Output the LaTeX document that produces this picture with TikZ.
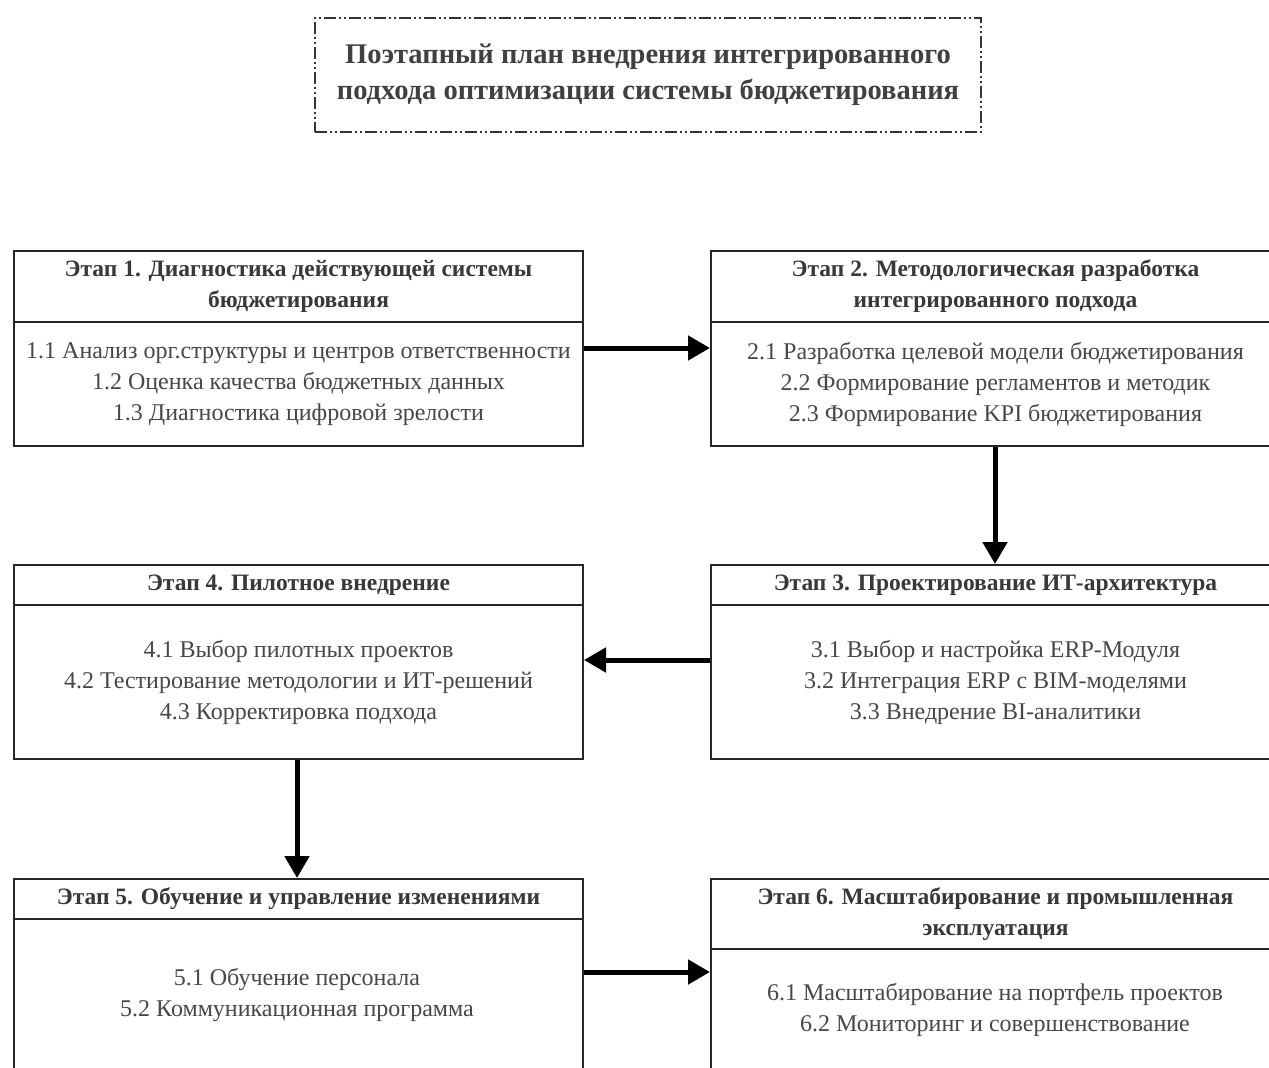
\documentclass[tikz,border=0pt]{standalone}
\usepackage{fontspec}
\setmainfont{Liberation Serif}
\usetikzlibrary{arrows.meta}
\begin{document}
\begin{tikzpicture}[x=1pt,y=-1pt,
  boxline/.style={draw=black!85, line width=2pt},
  hdr/.style={boxline, minimum width=569pt, anchor=north west, inner sep=0pt, align=center,
    font=\fontsize{23.5}{31}\selectfont\bfseries, text=black!78},
  bodyfont/.style={font=\fontsize{24}{31}\selectfont, text=black!72, align=center},
  bdy/.style={boxline, bodyfont, minimum width=569pt, anchor=north west, inner sep=0pt},
  flow/.style={line width=5pt, draw=black, -{Triangle[length=22pt,width=24pt]}},
  titlebox/.style={draw=black!80, line width=2pt, dash pattern=on 12pt off 3pt on 2pt off 3pt on 2pt off 3pt,
    minimum width=666pt, minimum height=114pt, anchor=north west, inner sep=0pt, align=center,
    font=\fontsize{28.5}{36}\selectfont\bfseries, text=black!75}]
\clip (0,0) rectangle (1269,1068);
\fill[white] (0,0) rectangle (1269,1068);

\node[titlebox] (title) at (314,17) {Поэтапный план внедрения интегрированного\\подхода оптимизации системы бюджетирования};

% Stage 1
\node[hdr, minimum height=71pt] (h1) at (13,250) {Этап 1. Диагностика действующей системы\\бюджетирования};
\node[bdy, minimum height=124pt] (b1) at (13,321) {1.1 Анализ орг.структуры и центров ответственности\\1.2 Оценка качества бюджетных данных\\1.3 Диагностика цифровой зрелости};

% Stage 2
\node[hdr, minimum height=71pt] (h2) at (710,250) {Этап 2. Методологическая разработка\\интегрированного подхода};
\node[bdy, minimum height=124pt] (b2) at (710,321) {2.1 Разработка целевой модели бюджетирования\\2.2 Формирование регламентов и методик\\2.3 Формирование KPI бюджетирования};

% Stage 4
\node[hdr, minimum height=40pt] (h4) at (13,564) {Этап 4. Пилотное внедрение};
\node[bdy, minimum height=154pt] (b4) at (13,604) {4.1 Выбор пилотных проектов\\4.2 Тестирование методологии и ИТ-решений\\4.3 Корректировка подхода};

% Stage 3
\node[hdr, minimum height=40pt] (h3) at (710,564) {Этап 3. Проектирование ИТ-архитектура};
\node[bdy, minimum height=154pt] (b3) at (710,604) {3.1 Выбор и настройка ERP-Модуля\\3.2 Интеграция ERP с BIM-моделями\\3.3 Внедрение BI-аналитики};

% Stage 5
\node[hdr, minimum height=40pt] (h5) at (13,878) {Этап 5. Обучение и управление изменениями};
\node[bdy, minimum height=200pt] (b5) at (13,918) {};
\node[bodyfont] (t5) at (297,995) {5.1 Обучение персонала\\5.2 Коммуникационная программа};

% Stage 6
\node[hdr, minimum height=70pt] (h6) at (710,878) {Этап 6. Масштабирование и промышленная\\эксплуатация};
\node[bdy, minimum height=200pt] (b6) at (710,948) {};
\node[bodyfont] (t6) at (995,1010) {6.1 Масштабирование на портфель проектов\\6.2 Мониторинг и совершенствование};

% Connectors
\draw[flow] (b1.east |- 0,348) -- (b2.west |- 0,348);
\draw[flow] (b2.south -| 995,0) -- (h3.north -| 995,0);
\draw[flow] (b3.west |- 0,660) -- (b4.east |- 0,660);
\draw[flow] (b4.south -| 297,0) -- (h5.north -| 297,0);
\draw[flow] (b5.east |- 0,972) -- (b6.west |- 0,972);
\end{tikzpicture}
\end{document}
